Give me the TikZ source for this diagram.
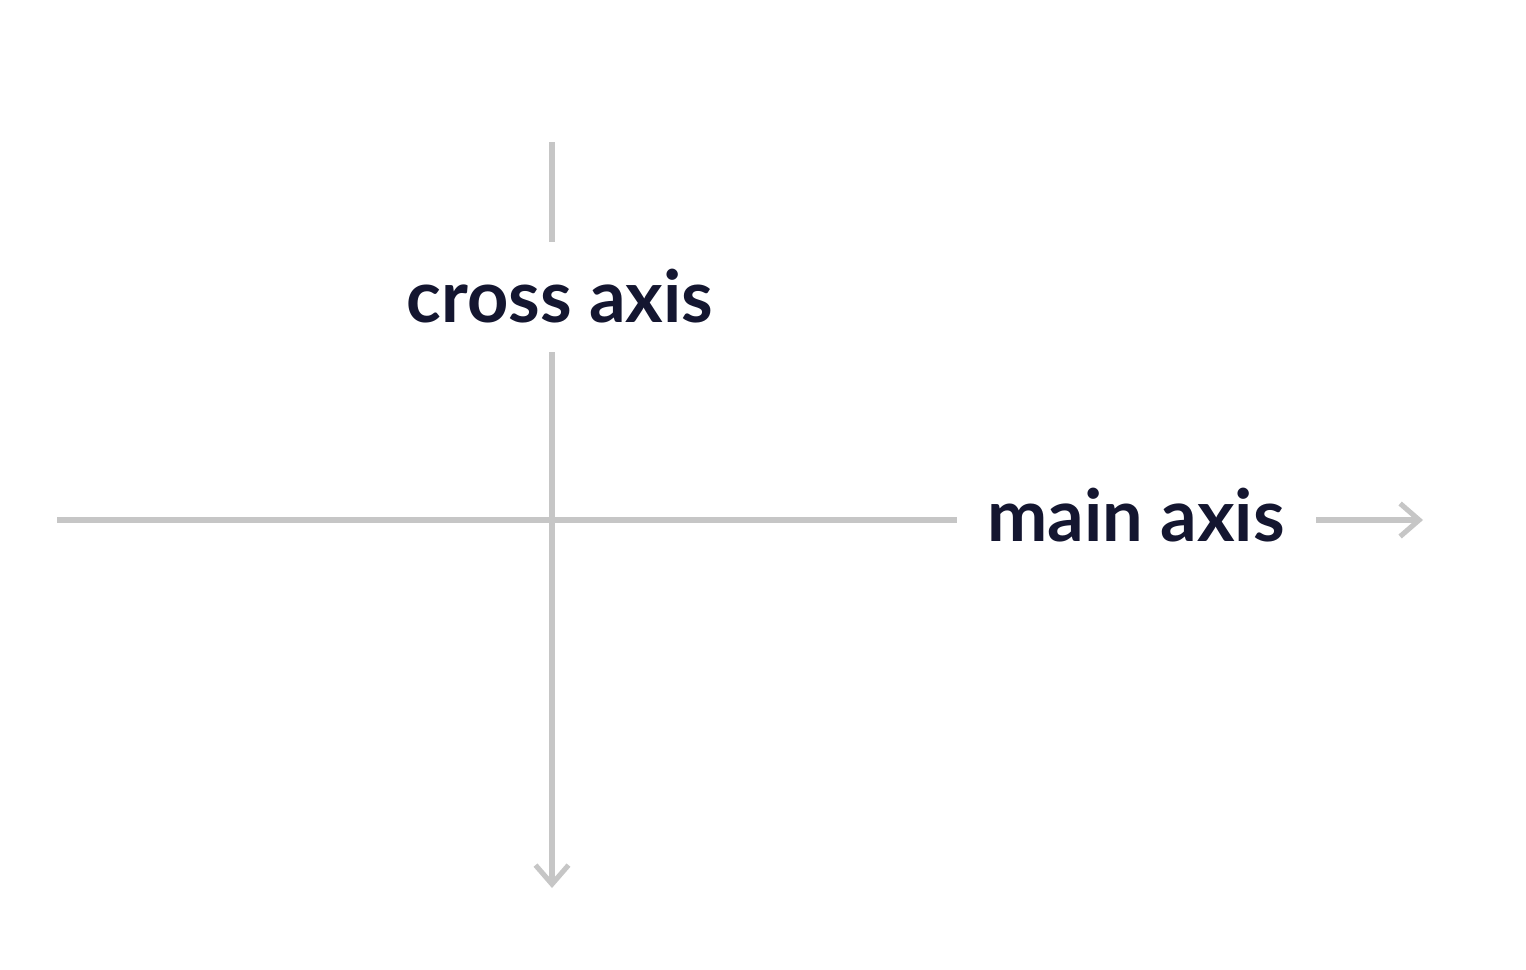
\documentclass[tikz,border=0pt]{standalone}
\usepackage{fontspec}
\setmainfont{Lato}
\usetikzlibrary{arrows.meta}
\definecolor{axisgray}{HTML}{C6C6C6}
\definecolor{labelnavy}{HTML}{141630}
\tikzset{
  axisline/.style={draw=axisgray, line width=2.9pt},
  axisarrow/.style={axisline, -{Straight Barb[length=0.38cm, width=0.66cm, line width=2.9pt]}},
  axislabel/.style={text=labelnavy, font=\fontsize{41}{44}\selectfont\bfseries, inner sep=0pt}
}
\begin{document}
\begin{tikzpicture}[x=0.02cm, y=-0.02cm]
\useasboundingbox[fill=white] (0,0) rectangle (1526,970);
\node[axislabel] (cross) at (560,296) {cross axis};
\node[axislabel] (main) at (1136,515) {main axis};
\coordinate (vtop) at (552,142);
\coordinate (vtopend) at (552,242);
\coordinate (vmid) at (552,352);
\coordinate (vbot) at (552,888);
\coordinate (hleft) at (57,520);
\coordinate (hright) at (957,520);
\coordinate (astart) at (1316,520);
\coordinate (aend) at (1423,520);
\draw[axisline] (vtop) -- (vtopend);
\draw[axisarrow] (vmid) -- (vbot);
\draw[axisline] (hleft) -- (hright);
\draw[axisarrow] (astart) -- (aend);
\end{tikzpicture}
\end{document}
